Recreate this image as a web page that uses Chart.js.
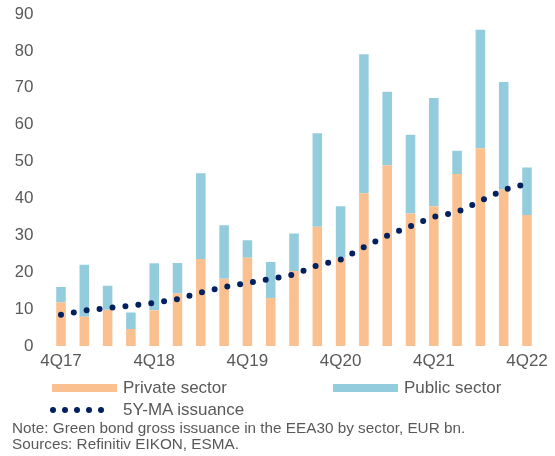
<!DOCTYPE html>
<html>
<head>
<meta charset="utf-8">
<script src="https://cdn.jsdelivr.net/npm/chart.js@4.4.1/dist/chart.umd.min.js"></script>
<style>
  html, body { margin: 0; padding: 0; background: #fff; }
  #wrap { position: relative; width: 555px; height: 456px; overflow: hidden;
          font-family: "Liberation Sans", Arial, sans-serif; color: #595959; }
  #chart { position: absolute; left: 0; top: 0; }
  .lg-item { position: absolute; height: 20px; display: flex; align-items: center; white-space: nowrap; font-size: 17px; }
  .lg-swatch { display: inline-block; width: 65px; height: 8px; margin-right: 6px; }
  .lg-dots { display: inline-flex; width: 67px; margin-right: 6px; }
  .lg-dot { width: 6px; height: 6px; border-radius: 50%; margin-right: 6.1px; }
  .note { position: absolute; left: 12px; font-size: 15.3px; white-space: nowrap; line-height: 16px; }
</style>
</head>
<body>
<div id="wrap">
  <canvas id="chart" width="555" height="456"></canvas>
  <div id="legend"></div>
  <div class="note" style="top:420px">Note: Green bond gross issuance in the EEA30 by sector, EUR bn.</div>
  <div class="note" style="top:436px">Sources: Refinitiv EIKON, ESMA.</div>
</div>
<script>
// Quarterly green bond gross issuance, EUR bn
const quarters = ['4Q17','1Q18','2Q18','3Q18','4Q18','1Q19','2Q19','3Q19','4Q19','1Q20','2Q20',
                  '3Q20','4Q20','1Q21','2Q21','3Q21','4Q21','1Q22','2Q22','3Q22','4Q22'];
const privateSector = [11.8, 7.9, 9.8, 4.6, 9.7, 14.2, 23.6, 18.2, 23.9, 13.0, 20.3,
                       32.3, 23.9, 41.4, 49.0, 35.9, 37.9, 46.6, 53.6, 42.4, 35.5];
const publicSector  = [4.2, 14.1, 6.5, 4.5, 12.7, 8.3, 23.2, 14.5, 4.8, 9.8, 10.2,
                       25.4, 14.0, 37.7, 19.9, 21.4, 29.3, 6.3, 32.1, 29.2, 12.9];
const movingAverage = [8.5, 9.6, 10.3, 10.9, 11.7, 12.7, 14.5, 16.0, 17.1, 18.2, 19.4,
                       21.9, 23.4, 26.8, 29.9, 32.5, 35.0, 36.3, 39.3, 42.3, 44.0];
const yTicks = [0, 10, 20, 30, 40, 50, 60, 70, 80, 90];

const ORANGE = '#FAC090';
const BLUE = '#93CDDD';
const NAVY = '#002060';
const GREY = '#595959';
const FONT = '"Liberation Sans", Arial, sans-serif';

const chart = new Chart(document.getElementById('chart'), {
  data: {
    labels: quarters,
    datasets: [
      { type: 'bar', label: 'Private sector', data: privateSector, backgroundColor: ORANGE,
        stack: 's', order: 2, categoryPercentage: 1, barPercentage: 0.41 },
      { type: 'bar', label: 'Public sector', data: publicSector, backgroundColor: BLUE,
        stack: 's', order: 2, categoryPercentage: 1, barPercentage: 0.41 },
      { type: 'line', label: '5Y-MA issuance', data: movingAverage, borderColor: NAVY,
        backgroundColor: NAVY, borderWidth: 6, borderDash: [0, 13], borderCapStyle: 'round',
        pointRadius: 0, tension: 0, fill: false, order: 1 }
    ]
  },
  options: {
    responsive: false,
    animation: false,
    layout: { padding: { left: 15.5, right: 16.35, top: 14, bottom: 79.6 } },
    plugins: { legend: { display: false }, tooltip: { enabled: false } },
    scales: {
      x: {
        stacked: true,
        offset: true,
        grid: { display: false, drawTicks: false },
        border: { display: false },
        ticks: {
          autoSkip: false, maxRotation: 0, padding: 5, color: GREY,
          font: { family: FONT, size: 17 },
          callback: (v, i) => (i % 4 === 0 ? quarters[i] : '')
        }
      },
      y: {
        stacked: true,
        min: yTicks[0], max: yTicks[yTicks.length - 1],
        afterBuildTicks: (axis) => { axis.ticks = yTicks.map(v => ({ value: v })); },
        afterFit: (axis) => {
          axis.width = 33.85;
          axis.paddingTop = 0;
          axis.paddingBottom = 0;
        },
        grid: { display: false, drawTicks: false },
        border: { display: false },
        ticks: { padding: 16, color: GREY, font: { family: FONT, size: 17 } }
      }
    }
  }
});

// Legend built from the chart's own datasets
const legendPos = [
  { left: 52, top: 378 },
  { left: 333, top: 378 },
  { left: 50, top: 400 }
];
const legendEl = document.getElementById('legend');
chart.data.datasets.forEach((ds, i) => {
  const item = document.createElement('div');
  item.className = 'lg-item';
  item.style.left = legendPos[i].left + 'px';
  item.style.top = legendPos[i].top + 'px';
  let mark;
  if (ds.type === 'line') {
    mark = document.createElement('span');
    mark.className = 'lg-dots';
    for (let k = 0; k < 5; k++) {
      const d = document.createElement('span');
      d.className = 'lg-dot';
      d.style.background = ds.borderColor;
      mark.appendChild(d);
    }
  } else {
    mark = document.createElement('span');
    mark.className = 'lg-swatch';
    mark.style.background = ds.backgroundColor;
  }
  const txt = document.createElement('span');
  txt.textContent = ds.label;
  item.appendChild(mark);
  item.appendChild(txt);
  legendEl.appendChild(item);
});
</script>
</body>
</html>
